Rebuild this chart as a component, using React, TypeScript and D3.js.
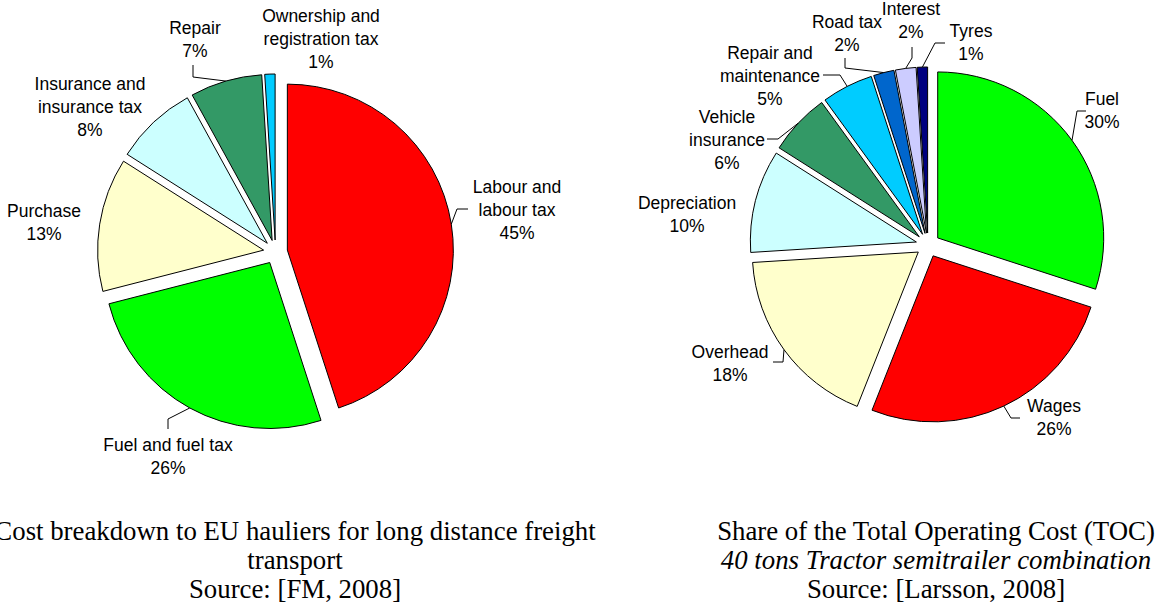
import React from "react";
import * as d3 from "d3";

// left chart: EU hauliers cost breakdown
const leftNames = ["Labour and|labour tax", "Fuel and fuel tax", "Purchase", "Insurance and|insurance tax", "Repair", "Ownership and|registration tax"];
const leftValues = [45, 26, 13, 8, 7, 1];
const leftColors = ["#ff0000", "#00ff00", "#ffffcc", "#ccffff", "#339966", "#00ccff"];
const leftTitle = ["Cost breakdown to EU hauliers for long distance freight", "transport", "Source: [FM, 2008]"];

// right chart: share of total operating cost
const rightNames = ["Fuel", "Wages", "Overhead", "Depreciation", "Vehicle|insurance", "Repair and|maintenance", "Road tax", "Interest", "Tyres"];
const rightValues = [30, 26, 18, 10, 6, 5, 2, 2, 1];
const rightColors = ["#00ff00", "#ff0000", "#ffffcc", "#ccffff", "#339966", "#00ccff", "#0066cc", "#ccccff", "#000080"];
const rightTitle = ["Share of the Total Operating Cost (TOC)", "40 tons Tractor semitrailer combination", "Source: [Larsson, 2008]"];

const R = 166;
const EXPLODE = 12;
const LINE = 23;

// label placement (x centre, first baseline) and leader elbow/end points
const leftLayout = [
  { x: 517, y: 193, leader: [[457, 209], [468, 209]] },
  { x: 168, y: 451, leader: [[168, 419], [168, 429]] },
  { x: 44, y: 217, leader: null },
  { x: 90, y: 90, leader: null },
  { x: 195, y: 34, leader: [[193, 77], [193, 65]] },
  { x: 321, y: 22, leader: null },
];
const rightLayout = [
  { x: 1102, y: 105, leader: [[1077, 111], [1086, 111]] },
  { x: 1054, y: 412, leader: [[1011, 418], [1020, 418]] },
  { x: 730, y: 358, leader: [[783, 362], [773, 362]] },
  { x: 687, y: 209, leader: null },
  { x: 727, y: 123, leader: [[778, 139], [767, 139]] },
  { x: 770, y: 59, leader: [[840, 75], [823, 75]] },
  { x: 847, y: 28, leader: [[845, 68], [845, 58]] },
  { x: 911, y: 15, leader: [[912, 58], [912, 47]] },
  { x: 971, y: 37, leader: [[935, 43], [945, 43]] },
];

type Layout = { x: number; y: number; leader: number[][] | null };

function ExplodedPie(props: { cx: number; cy: number; names: string[]; values: number[]; colors: string[]; layout: Layout[] }) {
  const { cx, cy, names, values, colors, layout } = props;
  const slices = d3.pie<number>().sort(null).value((d) => d)(values);
  const arc = d3.arc<d3.PieArcDatum<number>>().innerRadius(0).outerRadius(R);
  const total = d3.sum(values);

  return (
    <g>
      {slices.map((s, i) => {
        const mid = (s.startAngle + s.endAngle) / 2;
        const ox = cx + EXPLODE * Math.sin(mid);
        const oy = cy - EXPLODE * Math.cos(mid);
        return (
          <path key={i} d={arc(s) || ""} transform={`translate(${ox},${oy})`}
            fill={colors[i]} stroke="#000" strokeWidth={1} />
        );
      })}
      {slices.map((s, i) => {
        const l = layout[i];
        if (!l.leader) return null;
        const mid = (s.startAngle + s.endAngle) / 2;
        const sx = cx + (EXPLODE + R) * Math.sin(mid);
        const sy = cy - (EXPLODE + R) * Math.cos(mid);
        const pts = [[sx, sy], ...l.leader];
        return <polyline key={"l" + i} points={pts.map((p) => p.join(",")).join(" ")} fill="none" stroke="#000" strokeWidth={1} />;
      })}
      {slices.map((s, i) => {
        const l = layout[i];
        const pct = Math.round((s.value / total) * 100) + "%";
        const lines = [...names[i].split("|"), pct];
        return (
          <text key={"t" + i} x={l.x} y={l.y} textAnchor="middle" fontSize={17.5}
            fontFamily="'Liberation Sans', Arial, sans-serif" fill="#000">
            {lines.map((t, j) => (
              <tspan key={j} x={l.x} dy={j === 0 ? 0 : LINE}>{t}</tspan>
            ))}
          </text>
        );
      })}
    </g>
  );
}

function Title(props: { x: number; lines: string[]; italicLine?: number }) {
  const { x, lines, italicLine } = props;
  return (
    <text x={x} y={540} textAnchor="middle" fontSize={26.8} fontFamily="'Liberation Serif', 'Times New Roman', serif" fill="#000">
      {lines.map((t, j) => (
        <tspan key={j} x={x} dy={j === 0 ? 0 : 29} fontStyle={j === italicLine ? "italic" : "normal"}>{t}</tspan>
      ))}
    </text>
  );
}

export default function App() {
  return (
    <svg width={1157} height={606} style={{ position: "absolute", left: 0, top: 0, background: "#fff" }}>
      <ExplodedPie cx={275.5} cy={252} names={leftNames} values={leftValues} colors={leftColors} layout={leftLayout} />
      <ExplodedPie cx={928} cy={245} names={rightNames} values={rightValues} colors={rightColors} layout={rightLayout} />
      <Title x={295} lines={leftTitle} />
      <Title x={936} lines={rightTitle} italicLine={1} />
    </svg>
  );
}
